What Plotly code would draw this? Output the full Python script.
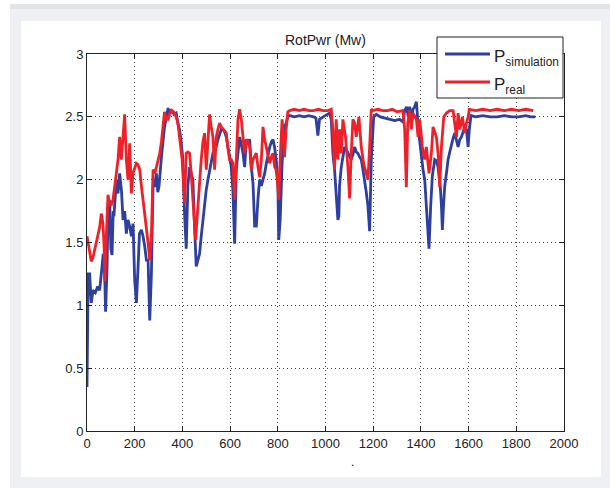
import plotly.graph_objects as go

# ---- data ----
x_sim = [0, 2, 5, 11, 18, 25, 35, 45, 53, 60, 68, 74, 78, 84, 88, 95, 100, 105, 110, 113,
         118, 123, 130, 137, 145, 151, 158, 165, 172, 180, 186, 193, 200, 207, 214, 220, 228,
         235, 242, 249, 256, 263, 270, 277, 284, 291, 297, 302, 312, 318, 325, 333, 340, 346,
         355, 365, 374, 381, 388, 395, 402, 409, 416, 423, 430, 437, 444, 451, 458, 465, 472,
         479, 486, 493, 500, 507, 514, 521, 528, 535, 542, 549, 556, 563, 570, 577, 584, 591,
         598, 605, 612, 619, 626, 633, 640, 647, 654, 661, 668, 675, 682, 689, 696, 703, 710,
         717, 724, 731, 738, 745, 752, 759, 766, 773, 780, 787, 793, 800, 804, 810, 818, 828,
         835, 842, 850, 870, 890, 910, 930, 950, 960, 968, 975, 990, 1005, 1017, 1024, 1031,
         1038, 1045, 1052, 1056, 1059, 1066, 1073, 1080, 1087, 1094, 1101, 1108, 1115, 1122,
         1129, 1136, 1143, 1150, 1157, 1164, 1171, 1178, 1185, 1192, 1202, 1213, 1230, 1250,
         1270, 1290, 1311, 1325, 1332, 1340, 1347, 1353, 1360, 1367, 1374, 1381, 1391, 1402,
         1409, 1416, 1421, 1426, 1434, 1441, 1448, 1458, 1465, 1472, 1481, 1486, 1490, 1495,
         1500, 1507, 1514, 1521, 1528, 1535, 1542, 1549, 1556, 1563, 1570, 1577, 1584, 1591,
         1598, 1603, 1610, 1630, 1660, 1690, 1720, 1750, 1780, 1810, 1840, 1860, 1880]
p_sim = [0.35, 1.0, 1.25, 1.25, 1.02, 1.12, 1.10, 1.15, 1.12, 1.25, 1.41, 1.25, 0.95, 1.3,
         1.7, 1.84, 1.45, 1.4, 1.75, 1.71, 1.85, 2.0, 1.89, 2.05, 1.9, 1.68, 1.75, 1.57, 1.68,
         1.62, 1.55, 1.65, 1.20, 1.02, 1.3, 1.57, 1.60, 1.55, 1.47, 1.36, 1.36, 0.88, 1.25,
         1.95, 1.95, 2.05, 1.90, 1.95, 2.18, 2.30, 2.42, 2.50, 2.57, 2.53, 2.55, 2.52, 2.53,
         2.45, 2.40, 2.30, 2.16, 1.73, 1.45, 1.95, 2.10, 2.05, 2.0, 1.63, 1.31, 1.36, 1.41,
         1.55, 1.68, 1.80, 1.92, 2.0, 2.08, 2.15, 2.21, 2.24, 2.26, 2.32, 2.37, 2.40, 2.40,
         2.38, 2.34, 2.25, 2.16, 2.1, 1.9, 1.49, 2.08, 2.2, 2.34, 2.28, 2.21, 2.10, 2.32, 2.30,
         2.32, 2.10, 1.97, 1.63, 1.63, 1.85, 2.0, 1.95, 2.0, 2.05, 2.13, 2.2, 2.26, 2.3, 2.32,
         2.25, 2.16, 2.0, 1.52, 1.68, 2.13, 2.42, 2.45, 2.50, 2.51, 2.50, 2.51, 2.50, 2.51,
         2.50, 2.49, 2.35, 2.48, 2.50, 2.52, 2.53, 2.48, 2.21, 2.08, 1.84, 1.68, 1.71, 1.95,
         2.10, 2.2, 2.26, 2.24, 2.21, 2.18, 2.16, 2.2, 2.26, 2.22, 2.21, 2.18, 2.16, 2.08, 2.0,
         1.9, 1.79, 1.59, 2.16, 2.50, 2.52, 2.50, 2.49, 2.48, 2.47, 2.48, 2.46, 2.55, 2.58,
         2.50, 2.58, 2.48, 2.56, 2.58, 2.62, 2.37, 2.16, 2.08, 2.0, 1.85, 1.73, 1.45, 1.79,
         2.03, 2.16, 2.15, 2.10, 1.95, 1.8, 1.60, 1.8, 1.95, 2.05, 2.16, 2.22, 2.29, 2.33,
         2.37, 2.3, 2.26, 2.32, 2.34, 2.38, 2.42, 2.40, 2.26, 2.40, 2.51, 2.50, 2.51, 2.50,
         2.50, 2.51, 2.50, 2.50, 2.51, 2.50, 2.50]

x_real = [0, 5, 11, 18, 25, 32, 39, 46, 53, 60, 67, 72, 75, 80, 88, 95, 102, 109, 116, 123,
          130, 137, 144, 151, 158, 165, 172, 179, 186, 193, 200, 207, 214, 221, 228, 235, 242,
          249, 256, 263, 270, 277, 284, 291, 298, 305, 312, 318, 325, 333, 340, 346, 353, 363,
          374, 381, 388, 395, 399, 409, 416, 423, 430, 437, 444, 451, 455, 460, 465, 472, 479,
          486, 493, 500, 507, 514, 521, 528, 535, 542, 549, 556, 563, 570, 577, 584, 591, 598,
          605, 612, 619, 626, 633, 640, 647, 654, 661, 668, 675, 682, 689, 696, 703, 710, 717,
          724, 731, 738, 745, 752, 759, 766, 773, 780, 787, 793, 800, 804, 811, 818, 823, 828,
          835, 842, 850, 870, 890, 910, 930, 950, 970, 990, 1010, 1024, 1031, 1038, 1045, 1052,
          1059, 1066, 1073, 1084, 1094, 1101, 1108, 1115, 1122, 1129, 1140, 1150, 1160, 1171,
          1178, 1185, 1192, 1200, 1220, 1240, 1260, 1280, 1300, 1325, 1332, 1339, 1345, 1353,
          1360, 1367, 1374, 1381, 1388, 1395, 1402, 1406, 1416, 1423, 1434, 1444, 1451, 1458,
          1465, 1472, 1479, 1486, 1496, 1507, 1521, 1535, 1549, 1556, 1563, 1574, 1584, 1591,
          1598, 1603, 1630, 1660, 1690, 1720, 1750, 1780, 1810, 1840, 1871]
p_real = [1.55, 1.50, 1.41, 1.35, 1.38, 1.44, 1.50, 1.57, 1.62, 1.73, 1.65, 1.45, 1.19, 1.5,
          1.88, 1.80, 1.80, 1.84, 1.97, 2.05, 2.16, 2.34, 2.16, 2.34, 2.52, 2.16, 2.0, 2.29,
          1.89, 2.05, 2.10, 2.13, 2.12, 2.08, 1.95, 1.84, 1.75, 1.63, 1.5, 1.36, 1.55, 2.08,
          2.05, 2.10, 2.15, 2.21, 2.30, 2.42, 2.54, 2.48, 2.48, 2.52, 2.55, 2.54, 2.50, 2.45,
          2.34, 2.25, 2.16, 1.81, 2.21, 2.22, 2.21, 2.05, 1.81, 1.6, 1.52, 1.65, 1.81, 2.0,
          2.16, 2.3, 2.37, 2.08, 2.35, 2.52, 2.42, 2.34, 2.08, 2.34, 2.40, 2.45, 2.42, 2.40,
          2.38, 2.37, 2.25, 2.16, 2.16, 2.13, 1.84, 2.21, 2.48, 2.56, 2.48, 2.34, 2.21, 2.32,
          2.30, 2.26, 2.08, 2.16, 2.18, 2.21, 2.10, 2.02, 2.16, 2.42, 2.32, 2.25, 2.21, 2.13,
          2.18, 2.21, 2.1, 2.08, 1.95, 1.84, 2.21, 2.48, 2.35, 2.18, 2.4, 2.54, 2.55, 2.56,
          2.55, 2.56, 2.55, 2.55, 2.56, 2.55, 2.55, 2.56, 2.40, 2.08, 2.48, 2.16, 2.40, 2.21,
          2.48, 2.34, 2.10, 1.85, 2.21, 2.48, 2.45, 2.34, 2.5, 2.26, 2.13, 2.05, 2.0, 2.26,
          2.56, 2.55, 2.56, 2.55, 2.55, 2.56, 2.54, 2.55, 2.40, 1.94, 2.45, 2.55, 2.40, 2.53,
          2.50, 2.48, 2.34, 2.48, 2.35, 2.26, 2.16, 2.26, 2.05, 2.21, 2.42, 2.38, 2.34, 2.21,
          1.94, 2.26, 2.50, 2.53, 2.55, 2.55, 2.34, 2.53, 2.40, 2.50, 2.37, 2.45, 2.50, 2.56,
          2.55, 2.56, 2.55, 2.56, 2.55, 2.56, 2.55, 2.56, 2.55]

x_ticks = [0, 200, 400, 600, 800, 1000, 1200, 1400, 1600, 1800, 2000]
y_ticks = [0, 0.5, 1, 1.5, 2, 2.5, 3]
y_tick_text = ["0", "0.5", "1", "1.5", "2", "2.5", "3"]

BLUE = "#2e3f9f"
RED = "#ee2128"

W, H = 610, 488
L, R, T, B = 87, 564, 54, 431   # plot area in pixels


def px(xp):
    return (xp - L) / (R - L)


def py(yp):
    return (B - yp) / (B - T)


fig = go.Figure()
fig.add_trace(go.Scatter(x=x_sim, y=p_sim, mode="lines", line=dict(color=BLUE, width=2.8),
                         showlegend=False))
fig.add_trace(go.Scatter(x=x_real, y=p_real, mode="lines", line=dict(color=RED, width=2.8),
                         showlegend=False))

axis_common = dict(showline=True, linecolor="#222", linewidth=1, mirror="ticks",
                   ticks="inside", ticklen=5, tickcolor="#222",
                   showgrid=True, gridcolor="#444", griddash="1px,3px", gridwidth=1,
                   zeroline=False, tickfont=dict(family="Liberation Sans", size=13, color="#222"))

fig.update_xaxes(range=[0, 2000], tickvals=x_ticks, **axis_common)
fig.update_yaxes(range=[0, 3], tickvals=y_ticks, ticktext=y_tick_text, **axis_common)

shapes = [
    # outer gray frame
    dict(type="rect", xref="paper", yref="paper", x0=px(10), x1=px(612), y0=py(8), y1=py(490),
         fillcolor="#eef0f3", line=dict(width=0), layer="below"),
    dict(type="rect", xref="paper", yref="paper", x0=px(10), x1=px(612), y0=py(4), y1=py(9),
         fillcolor="#e2e4e7", line=dict(width=0), layer="below"),
    # white panel
    dict(type="rect", xref="paper", yref="paper", x0=px(21), x1=px(601), y0=py(21), y1=py(477),
         fillcolor="white", line=dict(width=0), layer="below"),
    # legend box
    dict(type="rect", xref="paper", yref="paper", x0=px(437), x1=px(563), y0=py(37), y1=py(98),
         fillcolor="white", line=dict(color="#222", width=1), layer="above"),
    dict(type="line", xref="paper", yref="paper", x0=px(445), x1=px(490), y0=py(54), y1=py(54),
         line=dict(color=BLUE, width=2.8), layer="above"),
    dict(type="line", xref="paper", yref="paper", x0=px(445), x1=px(490), y0=py(82), y1=py(82),
         line=dict(color=RED, width=2.8), layer="above"),
]

annotations = [
    dict(text="RotPwr (Mw)", xref="paper", yref="paper", x=px(325), y=py(40),
         showarrow=False, xanchor="center", yanchor="middle",
         font=dict(family="Liberation Sans", size=14, color="#222")),
    dict(text="P<sub>simulation</sub>", xref="paper", yref="paper", x=px(492), y=py(58),
         showarrow=False, xanchor="left", yanchor="middle",
         font=dict(family="Liberation Sans", size=17, color="#222")),
    dict(text="P<sub>real</sub>", xref="paper", yref="paper", x=px(492), y=py(86),
         showarrow=False, xanchor="left", yanchor="middle",
         font=dict(family="Liberation Sans", size=17, color="#222")),
    dict(text=".", xref="paper", yref="paper", x=px(352), y=py(462),
         showarrow=False, xanchor="center", yanchor="middle",
         font=dict(family="Liberation Sans", size=12, color="#222")),
]

fig.update_layout(
    width=W, height=H,
    margin=dict(l=L, r=W - R, t=T, b=H - B),
    paper_bgcolor="white", plot_bgcolor="white",
    shapes=shapes, annotations=annotations,
    showlegend=False,
)

fig.write_html("out.html", config={"displayModeBar": False},
               post_script="document.body.style.margin='0px';document.body.style.overflow='hidden';")
